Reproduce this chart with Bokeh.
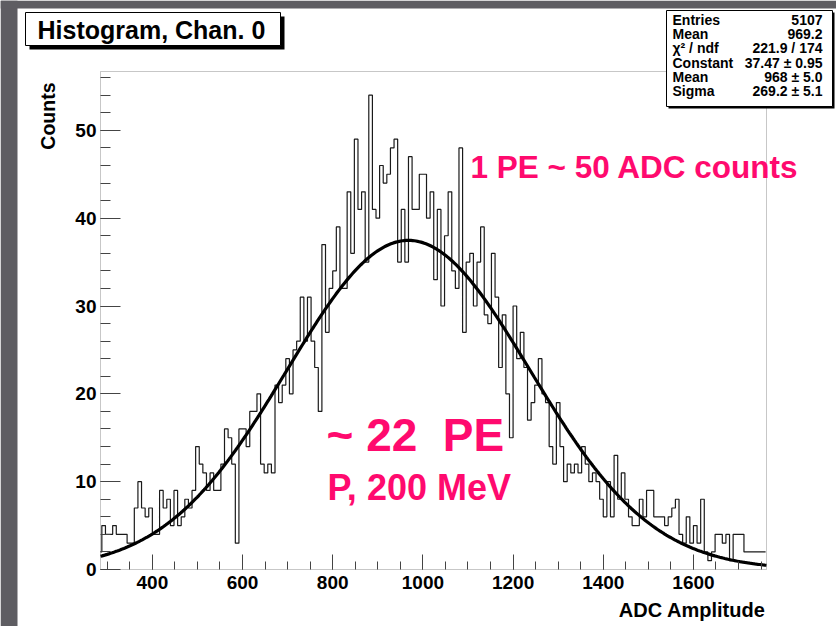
import numpy as np
from bokeh.plotting import figure
from bokeh.models import Label, BoxAnnotation, Range1d, FixedTicker
from bokeh.embed import file_html
from bokeh.resources import INLINE

# ---------------- data ----------------
bin_lo = 280
bin_width = 8
counts = [
    2, 5, 4, 4, 5, 4, 4, 4, 3, 3, 7, 10, 7, 6, 7, 4, 4, 9, 7, 8,
    5, 9, 5, 6, 8, 7, 9, 14, 12, 11, 9, 11, 9, 9, 12, 16, 15, 12, 3, 16,
    16, 14, 18, 18, 20, 12, 11, 12, 11,
    21, 19, 21, 24, 20, 25, 26, 31, 26, 31, 26, 23, 18, 37, 27, 32, 34, 39, 32, 32,
    43, 36, 49, 41, 43, 35, 54, 41, 40, 46, 44, 45, 48, 49, 35, 41, 35, 47, 41, 41,
    45, 45, 40, 43,
    33, 41, 30, 38, 43, 34, 32, 48, 27, 35, 36, 30, 35, 39, 29, 28, 36, 31, 23, 29,
    20, 15, 30, 24, 27, 23, 17, 19, 21, 24, 20, 19, 14, 12, 19, 14, 10, 12, 11, 12,
    11, 14, 12, 10, 11,
    10,
    8, 6, 10, 6, 13, 8, 11, 8, 6, 5, 5, 8, 6, 9, 9, 6, 6, 6, 5, 6,
    7, 8, 4, 3, 6, 3, 5, 3, 8, 2, 1, 2, 4, 4, 3, 4, 1, 4, 4, 4,
    2, 2, 2, 2, 2, 2,
]

# Gaussian fit parameters (from the stats box)
fit_constant = 37.47
fit_mean = 968.0
fit_sigma = 269.2

# axis ranges of the histogram frame
x_lo, x_hi = 285, 1762
y_lo, y_hi = 0, 56.7

x_ticks = [400, 600, 800, 1000, 1200, 1400, 1600]
x_minor = list(range(300, 1751, 50))
y_ticks = [0, 10, 20, 30, 40, 50]
y_minor = list(range(0, 57, 2))

stats_names = ["Entries", "Mean", "\u03c7\u00b2 / ndf", "Constant", "Mean", "Sigma"]
stats_values = ["5107", "969.2", "221.9 / 174", "37.47 \u00b1 0.95", "968 \u00b1 5.0", "269.2 \u00b1 5.1"]

title_text = "Histogram, Chan. 0"
x_label = "ADC Amplitude"
y_label = "Counts"
note1 = "1 PE ~ 50 ADC counts"
note2 = "~ 22\u00a0 PE"
note3 = "P, 200 MeV"

PINK = "#ff0a6e"
FONT = "Liberation Sans"
AXC = "#444444"

# ---------------- geometry ----------------
W, H = 836, 626
FL, FR, FT, FB = 100, 766, 71, 569   # histogram frame in page pixels

xs = (FR - FL) / (x_hi - x_lo)
ys = (FB - FT) / (y_hi - y_lo)
X0 = x_lo - FL / xs
X1 = x_hi + (W - FR) / xs
Y0 = y_lo - (H - FB) / ys
Y1 = y_hi + FT / ys

p = figure(width=W, height=H, x_range=Range1d(X0, X1), y_range=Range1d(Y0, Y1),
           output_backend="svg", toolbar_location=None, title=None,
           min_border=0, min_border_left=0, min_border_right=0,
           min_border_top=0, min_border_bottom=0)
p.background_fill_color = "white"
p.border_fill_color = "white"
p.outline_line_color = None
p.grid.visible = False

def sx(X):
    return X

def sy(Y):
    return H - Y

def sbox(L, R, T, B, fill, line_color=None, line_width=1):
    p.add_layout(BoxAnnotation(left=sx(L), right=sx(R), top=sy(T), bottom=sy(B),
                               left_units="screen", right_units="screen",
                               top_units="screen", bottom_units="screen",
                               fill_color=fill, fill_alpha=1,
                               line_color=line_color if line_color else fill,
                               line_alpha=1 if line_color else 0, line_width=line_width))

def label(X, Y, text, size, color="black", align="left", baseline="middle", angle=0.0, style="bold"):
    p.add_layout(Label(x=sx(X), y=sy(Y), x_units="screen", y_units="screen", text=text,
                       text_font=FONT, text_font_style=style, text_font_size=size,
                       text_color=color, text_align=align, text_baseline=baseline,
                       angle=angle))

# slide background strips
sbox(0, 17, 0, H, "#5e5d62")
sbox(0, W, 0, 8, "#5e5d62")

# histogram frame
p.add_layout(BoxAnnotation(left=x_lo, right=x_hi, bottom=y_lo, top=y_hi,
                           fill_alpha=0, line_color=AXC, line_width=1))

# histogram as a step outline (clamped to the axis range)
edges = bin_lo + bin_width * np.arange(len(counts) + 1)
edges = np.clip(edges, x_lo, x_hi)
yv = list(counts) + [counts[-1]]
p.step(edges, yv, mode="after", line_color="#1a1a1a", line_width=1.2)

# fit curve
xf = np.linspace(x_lo, x_hi, 400)
yf = fit_constant * np.exp(-0.5 * ((xf - fit_mean) / fit_sigma) ** 2)
p.line(xf, yf, line_color="black", line_width=3.2)

# axes placed at the histogram frame edges
p.xaxis.fixed_location = y_lo
p.yaxis.fixed_location = x_lo
for ax in (p.xaxis[0], p.yaxis[0]):
    ax.axis_line_color = None
    ax.major_tick_line_color = AXC
    ax.minor_tick_line_color = AXC
    ax.major_tick_out = 0
    ax.minor_tick_out = 0
    ax.major_label_text_font = FONT
    ax.major_label_text_font_style = "bold"
    ax.major_label_text_font_size = "19px"
    ax.major_label_text_color = "black"

p.xaxis.ticker = FixedTicker(ticks=x_ticks, minor_ticks=x_minor)
p.yaxis.ticker = FixedTicker(ticks=y_ticks, minor_ticks=y_minor)
p.xaxis.major_tick_in = 15
p.xaxis.minor_tick_in = 8
p.yaxis.major_tick_in = 20
p.yaxis.minor_tick_in = 10
p.xaxis.major_label_standoff = 6
p.yaxis.major_label_standoff = 4

# axis titles
label(765, 609, x_label, "20px", align="right")
label(47, 82, y_label, "19.5px", align="right", angle=np.pi / 2)

# title box with shadow
sbox(29, 284, 16, 49, "black")
sbox(25, 280, 12, 45, "white", "black")
label(37, 29, title_text, "25px")

# stats box with shadow
sbox(668, 834, 12, 108, "black")
sbox(666, 832, 10, 106, "white", "black")
row_y = [19, 33.3, 47.6, 62, 76.3, 90.6]
for name, val, yy in zip(stats_names, stats_values, row_y):
    label(672, yy, name, "14px")
    label(822, yy, val, "14px", align="right")

# pink annotations
label(470, 166, note1, "31.5px", color=PINK)
label(326, 434, note2, "46px", color=PINK)
label(327, 487, note3, "36px", color=PINK)

open("out.html", "w").write(file_html(p, INLINE))
